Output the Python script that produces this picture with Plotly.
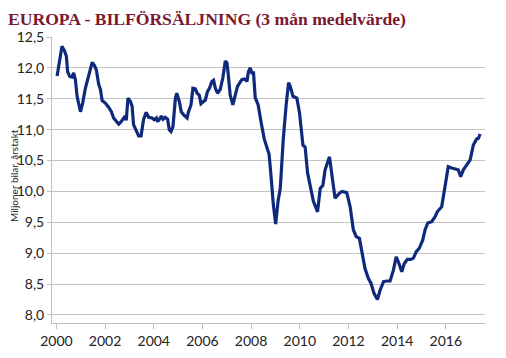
import plotly.graph_objects as go

years = [
    2000.03, 2000.23, 2000.33, 2000.41, 2000.46, 2000.55, 2000.64, 2000.71, 2000.78, 2000.85,
    2000.99, 2001.08, 2001.19, 2001.33, 2001.47, 2001.56, 2001.64, 2001.74, 2001.81, 2001.88,
    2002.01, 2002.15, 2002.26, 2002.35, 2002.46, 2002.56, 2002.66, 2002.76, 2002.83, 2002.87,
    2002.94, 2003.04, 2003.11, 2003.17, 2003.28, 2003.38, 2003.48, 2003.58, 2003.69, 2003.79,
    2003.93, 2004.02, 2004.11, 2004.16, 2004.24, 2004.31, 2004.38, 2004.47, 2004.57, 2004.64,
    2004.71, 2004.79, 2004.89, 2004.95, 2005.06, 2005.13, 2005.23, 2005.37, 2005.43, 2005.53,
    2005.61, 2005.71, 2005.78, 2005.87, 2005.94, 2006.02, 2006.12, 2006.21, 2006.29, 2006.39,
    2006.46, 2006.53, 2006.62, 2006.73, 2006.84, 2006.94, 2007.01, 2007.07, 2007.14, 2007.25,
    2007.35, 2007.44, 2007.52, 2007.62, 2007.73, 2007.83, 2007.89, 2007.96, 2008.03, 2008.10,
    2008.17, 2008.29, 2008.42, 2008.54, 2008.66, 2008.74, 2008.83, 2008.91, 2009.01, 2009.11,
    2009.20, 2009.32, 2009.44, 2009.54, 2009.61, 2009.72, 2009.88, 2009.99, 2010.13, 2010.22,
    2010.32, 2010.46, 2010.56, 2010.73, 2010.84, 2010.95, 2011.04, 2011.22, 2011.32, 2011.45,
    2011.63, 2011.73, 2011.93, 2012.07, 2012.20, 2012.32, 2012.45, 2012.55, 2012.68, 2012.82,
    2012.93, 2013.05, 2013.19, 2013.30, 2013.44, 2013.58, 2013.71, 2013.85, 2013.96, 2014.05,
    2014.19, 2014.29, 2014.42, 2014.56, 2014.67, 2014.78, 2014.91, 2015.05, 2015.15, 2015.26,
    2015.42, 2015.56, 2015.65, 2015.83, 2015.93, 2016.01, 2016.10, 2016.24, 2016.38, 2016.51,
    2016.61, 2016.72, 2016.86, 2017.00, 2017.13, 2017.27, 2017.34, 2017.41,
]

sales = [
    11.87, 12.35, 12.28, 12.19, 11.94, 11.86, 11.85, 11.92, 11.81, 11.54,
    11.29, 11.43, 11.67, 11.89, 12.09, 12.04, 11.97, 11.73, 11.65, 11.47,
    11.43, 11.36, 11.29, 11.19, 11.13, 11.09, 11.13, 11.19, 11.22, 11.15,
    11.51, 11.46, 11.38, 11.08, 10.97, 10.90, 10.90, 11.16, 11.28, 11.20,
    11.19, 11.16, 11.19, 11.13, 11.17, 11.22, 11.17, 11.20, 11.17, 11.00,
    10.97, 11.05, 11.51, 11.59, 11.44, 11.29, 11.24, 11.19, 11.29, 11.40,
    11.67, 11.66, 11.59, 11.56, 11.42, 11.44, 11.48, 11.62, 11.67, 11.78,
    11.80, 11.67, 11.59, 11.65, 11.84, 12.11, 12.08, 11.86, 11.56, 11.40,
    11.59, 11.70, 11.75, 11.81, 11.82, 11.78, 11.94, 12.00, 11.92, 11.92,
    11.52, 11.40, 11.10, 10.85, 10.70, 10.60, 10.20, 9.80, 9.47, 9.85,
    10.05, 10.84, 11.40, 11.76, 11.70, 11.54, 11.51, 11.27, 10.75, 10.72,
    10.30, 10.00, 9.84, 9.67, 10.05, 10.10, 10.35, 10.56, 10.24, 9.89,
    9.97, 10.00, 9.98, 9.75, 9.38, 9.27, 9.24, 9.05, 8.75, 8.59,
    8.51, 8.35, 8.25, 8.40, 8.54, 8.55, 8.55, 8.73, 8.94, 8.86,
    8.70, 8.83, 8.90, 8.90, 8.92, 9.02, 9.08, 9.21, 9.38, 9.49,
    9.51, 9.59, 9.67, 9.75, 9.97, 10.21, 10.40, 10.38, 10.36, 10.35,
    10.24, 10.35, 10.43, 10.51, 10.75, 10.85, 10.86, 10.93,
]

x_ticks = [2000, 2002, 2004, 2006, 2008, 2010, 2012, 2014, 2016]
x_tick_labels = [str(v) for v in x_ticks]
y_ticks = [8.0, 8.5, 9.0, 9.5, 10.0, 10.5, 11.0, 11.5, 12.0, 12.5]
y_tick_labels = [f"{v:.1f}".replace(".", ",") for v in y_ticks]

title_text = "EUROPA - BILFÖRSÄLJNING (3 mån medelvärde)"
y_label = "Miljoner bilar, årstakt"

# The page body has an 8px margin, so the figure is sized/positioned to compensate.
W, H = 490, 342

fig = go.Figure()
fig.add_trace(go.Scatter(
    x=years, y=sales, mode="lines",
    line=dict(color="#0F2A7C", width=3.2),
    hoverinfo="skip", showlegend=False,
))

tick_font = dict(family="Lato, 'Noto Sans', sans-serif", size=14, color="#222222")

fig.update_layout(
    width=W, height=H,
    margin=dict(l=44, r=13, t=29, b=27, pad=0, autoexpand=False),
    paper_bgcolor="white", plot_bgcolor="white",
    title=dict(
        text=title_text, x=0, xanchor="left", xref="container",
        y=1 - 10.5 / H, yanchor="middle", yref="container",
        pad=dict(l=0, r=0, t=0, b=0),
        font=dict(family="'Liberation Serif', serif", size=17.6, color="#7B1830", weight="bold"),
    ),
    xaxis=dict(
        range=[1999.82, 2017.61],
        tickvals=x_ticks, ticktext=x_tick_labels,
        showgrid=False, zeroline=False, automargin=False,
        showline=True, linecolor="#BFBFBF", linewidth=1,
        ticks="outside", ticklen=5, tickcolor="#BFBFBF",
        tickfont=tick_font,
    ),
    yaxis=dict(
        range=[7.87, 12.5],
        tickvals=y_ticks, ticktext=y_tick_labels,
        showgrid=True, gridcolor="#C4C4C4", gridwidth=1,
        zeroline=False, automargin=False,
        showline=True, linecolor="#BFBFBF", linewidth=1,
        ticks="outside", ticklen=4, tickcolor="#BFBFBF",
        tickfont=tick_font,
    ),
    annotations=[dict(
        text=y_label, textangle=-90,
        xref="paper", yref="paper", x=0, y=(323 - 176) / 286,
        xshift=-38, xanchor="center", yanchor="middle", showarrow=False,
        font=dict(family="Lato, 'Noto Sans', sans-serif", size=10, color="#222222"),
    )],
)

fig.write_html("out.html")
